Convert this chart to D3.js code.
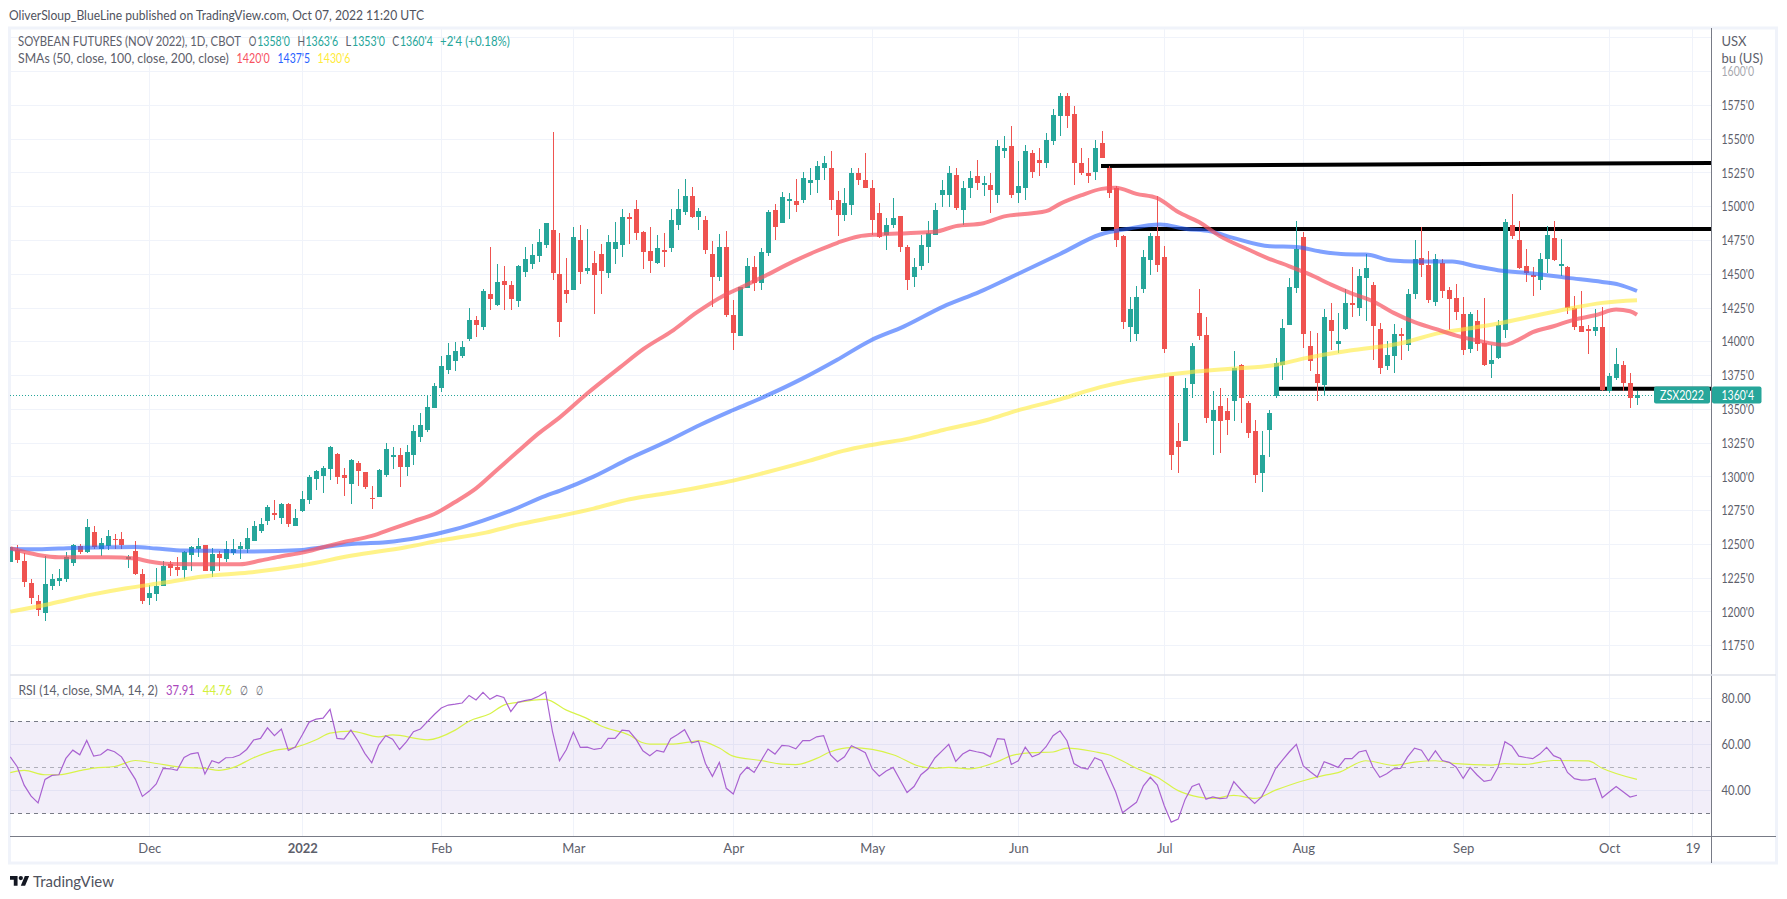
<!DOCTYPE html>
<html><head><meta charset="utf-8">
<script src="https://cdn.jsdelivr.net/npm/d3@7/dist/d3.min.js"></script>
<style>
html,body{margin:0;padding:0;background:#fff;overflow:hidden}
text{font-family:Lato,"Open Sans",sans-serif}
</style></head><body>
<svg id="c" width="1787" height="899" xmlns="http://www.w3.org/2000/svg"></svg>
<script>
const opens=[1237.3,1245.9,1237.8,1221.5,1208.1,1199.3,1219.5,1223,1224.4,1236.5,
1248.6,1244.7,1259.2,1246.6,1248.9,1254,1254,1239.2,1245.2,1228.1,
1210.4,1213.3,1219.2,1235.5,1233.3,1231.1,1242.2,1246.6,1249.6,1230.4,
1242.9,1239.2,1243.7,1246.6,1246.6,1252.6,1260,1267.4,1273.3,1269.6,
1279.9,1263.7,1274.8,1282.9,1298.4,1300.7,1305.8,1316.9,1301.4,1294.7,
1310.3,1303.6,1284.4,1285.1,1301.4,1314.7,1316.2,1307.3,1316.2,1329.5,
1334.7,1351,1365.8,1379.1,1385.8,1389.5,1402.1,1416.1,1410.8,1435.2,
1427.1,1444.8,1441.9,1430,1451.5,1457.4,1463.3,1471.5,1482.6,1450,
1438.2,1438.2,1475.2,1452.2,1458.1,1464.8,1450.7,1468.5,1471.5,1492.2,
1498.1,1481.1,1467,1458.1,1467.8,1469.2,1486.3,1495.9,1507.7,1492.2,
1490,1464.8,1447.8,1470,1419.7,1404.1,1439.6,1455.2,1443.3,1465.5,
1497.4,1487.7,1504,1504,1505.3,1517.2,1520.1,1528.3,1529,1504.6,
1494.2,1501.6,1525.3,1520.1,1513.5,1495,1479.4,1486.8,1492.8,1469.8,
1447.6,1455.8,1469.8,1479.4,1508.3,1509,1523.8,1497.2,1513.5,1522.4,
1515.7,1516.4,1508.3,1541.6,1545.3,1510.5,1513.5,1539.4,1534.9,1532.7,
1548.3,1567.5,1581.6,1569,1532,1524.6,1526,1546.8,1529,1514.2,
1478,1410.6,1405.4,1438.7,1460.2,1478,1462.4,1374.3,1326.9,1326.2,
1369.1,1421.6,1405.3,1341,1352.1,1349.1,1355.8,1383.1,1354.3,1334.3,
1303.2,1335,1359.5,1383.1,1412.7,1440.1,1477.9,1397.2,1376.5,1368.3,
1416.4,1398.7,1409.8,1429,1425.3,1447.5,1442.3,1409.8,1382.4,1389.8,
1406.1,1397.9,1435.7,1462.3,1457.1,1429.8,1458.6,1438.6,1432.7,1420.9,
1395,1415.7,1399.4,1383.9,1388.3,1409,1486.8,1475.7,1456.4,1449.7,
1446,1461.6,1477.1,1456.4,1455.7,1425.3,1412,1409.8,1408.3,1411.3,
1363.9,1373.5,1383.1,1369.8,1358];
const highs=[1248.1,1249.6,1243.4,1224.2,1212.6,1241.7,1228.1,1231.8,1244.4,1250.3,
1250.3,1268.8,1263.7,1254.8,1260.7,1257.7,1259.2,1242.2,1252.6,1231.8,
1220,1232.6,1237.8,1237.8,1240.7,1245.4,1248.9,1254.8,1249.6,1247.4,
1244.9,1252.6,1254,1251.8,1262.2,1267.4,1269.6,1279.2,1282.9,1280.7,
1280.7,1276.2,1289.6,1301.4,1305.1,1308.1,1322.9,1317.7,1306.6,1313.2,
1311.8,1303.6,1293.3,1305.8,1325.1,1322.1,1321.4,1323.6,1338.4,1347.3,
1360.6,1369.5,1389.5,1399.1,1399.8,1400.6,1425,1419.1,1438.9,1470,
1457.4,1455.9,1444.8,1456.7,1470,1472.2,1483.3,1487.7,1555.1,1480.3,
1461.8,1484.8,1486.3,1483.3,1467,1472.2,1478.9,1488.5,1498.1,1495.1,
1504.8,1481.8,1484.8,1478.9,1480.3,1498.1,1512.9,1520.3,1514.4,1498.8,
1492.9,1474.4,1479.6,1481.8,1430.8,1440.4,1461.8,1463.3,1469.2,1497.4,
1501.8,1510.7,1509.9,1520.3,1526,1529,1533.5,1537.2,1540.9,1511.3,
1513.5,1528.3,1529,1540.1,1519.4,1503.1,1491.3,1506.8,1492.8,1472,
1461.7,1479.4,1489.1,1503.1,1519.4,1530.5,1528.3,1518.7,1526.8,1534.9,
1522.4,1524.6,1549.7,1552,1560.1,1534.2,1546,1542.3,1543.1,1554.2,
1572.7,1584.5,1584.5,1574.2,1543.8,1535.7,1549.7,1556.4,1529.8,1515,
1478.7,1432.8,1441,1468.3,1480.2,1507.6,1470.6,1375,1340.2,1373.5,
1399.4,1439.4,1418.7,1363.2,1366.1,1358.7,1393.5,1383.9,1356.5,1342.4,
1333.6,1349.8,1388.3,1417.2,1447.5,1489.7,1481.6,1408.3,1406.8,1424.6,
1429,1421.6,1439.4,1455.7,1454.2,1465.3,1444.6,1414.2,1400.9,1413.5,
1410.5,1439.4,1475.7,1485.3,1467.5,1465.3,1461.6,1440.9,1443.1,1433.5,
1422.4,1423.8,1432.7,1397.9,1416.4,1491.2,1509.7,1489.7,1469,1455.7,
1466,1486,1489.7,1476.4,1456.4,1434.2,1437.9,1412.7,1424.6,1426,
1377.2,1395.7,1386.1,1377.2,1363.75];
const lows=[1237.3,1236,1218.8,1205.9,1196.6,1192.9,1216.5,1219.5,1222.5,1234.3,
1242.9,1243.9,1246.6,1241.5,1245.9,1246.6,1246.6,1232.6,1227.4,1205.9,
1205.2,1208.1,1219.2,1226.6,1226.6,1224.4,1230.4,1240.7,1230.4,1225.9,
1230.4,1237,1242.2,1239.2,1243.7,1252.6,1258.5,1264.4,1268.1,1265.1,
1262.9,1263.7,1274,1279.9,1290.3,1288.1,1297.7,1294.7,1285.9,1279.9,
1293.3,1291,1276.2,1285.1,1299.9,1305.8,1292.5,1300.7,1308.8,1325.8,
1333.2,1351,1362.8,1376.2,1378.4,1388,1400.6,1403.5,1408.6,1423.4,
1426.3,1423.4,1423.4,1425.6,1447.8,1453.7,1458.9,1469.2,1445.6,1403.4,
1428.5,1438.2,1442.6,1450,1420.4,1435.2,1447,1457.4,1462.6,1472.2,
1475.2,1453.7,1450.7,1457.4,1455.2,1466.3,1482.6,1493.7,1491.4,1482.6,
1464.8,1425.6,1444.8,1418.2,1393.7,1404.1,1439.6,1437.4,1438.2,1463.3,
1475.2,1487.7,1490.7,1495.9,1503.1,1509,1509.8,1519.4,1497.9,1478,
1489.1,1493.5,1516.4,1514.2,1479.4,1476.5,1467.6,1483.9,1466.1,1438,
1440.2,1452.8,1458,1478.7,1500,1500,1497.2,1486.8,1506.1,1512.7,
1507.6,1495,1502.4,1535.7,1506.1,1503.1,1505.3,1521.6,1522.4,1528.3,
1546,1552.7,1558.6,1516.4,1523.1,1517.9,1520.1,1536.4,1506.1,1469.8,
1409.1,1399.5,1400.2,1435.8,1449.8,1451.3,1391.4,1304.7,1303.2,1326.2,
1358,1401.6,1339.5,1316.5,1318,1331.3,1341,1339.5,1328.4,1295.1,
1289.1,1315,1358.7,1372,1412.7,1436.4,1395.7,1378,1356.5,1360.2,
1394.2,1392,1409,1418.7,1419.4,1415.7,1386.8,1376.5,1379.4,1377.2,
1386.8,1393.5,1432,1448.3,1429,1426.8,1432.7,1409,1416.4,1390.5,
1392,1392.8,1381.7,1373.5,1387.6,1403.1,1476.4,1454.2,1444.6,1434.2,
1438.6,1451.2,1460.1,1449,1420.9,1409,1407.6,1391.3,1403.9,1363.9,
1361.7,1372,1363.2,1350.6,1353];
const closes=[1248.1,1238.5,1222.2,1210.6,1201.5,1220.7,1224.4,1225.2,1240.7,1249.6,
1244.7,1262.9,1248.1,1251.1,1256.3,1253.5,1249.6,1240.7,1228.1,1208.1,
1214.1,1219.2,1234,1232.6,1231.1,1244.7,1248.1,1248.9,1230.4,1242.9,
1240,1246.6,1246.6,1248.9,1254.8,1263.7,1265.1,1277.7,1271.8,1279.9,
1265.1,1269.6,1283.6,1299.9,1304.4,1306.6,1322.1,1299.9,1299.2,1312.5,
1304.4,1292.5,1283.6,1305.1,1320.6,1316.2,1307.3,1318.4,1334,1338.4,
1351.7,1367.3,1382.1,1390.2,1393.2,1396.1,1416.1,1412.4,1437.4,1431.5,
1444.1,1441.9,1431.5,1455.9,1461.1,1464.1,1473.7,1487.7,1450.7,1414.5,
1435.2,1477.4,1451.5,1454.4,1449.3,1452.2,1473.7,1473.7,1492.2,1490.7,
1480.3,1466.3,1459.6,1469.2,1466.3,1490,1498.1,1507.7,1492.2,1496.6,
1467.8,1447.8,1470,1419.7,1406.3,1440.4,1455.9,1443.3,1466.3,1495.9,
1484.8,1507,1505.5,1501,1520.9,1520.1,1529.8,1532,1504.6,1493.5,
1502.4,1524.6,1520.1,1514.2,1489.8,1477.2,1486.1,1492,1469.8,1446.1,
1455,1472,1480.2,1497.9,1512,1525.3,1498.7,1514.2,1521.6,1517.9,
1517.2,1512,1544.6,1543.8,1509,1515,1541.6,1526,1532.7,1549.7,
1568.2,1582.3,1567.5,1532.7,1524.6,1522.4,1543.1,1536.4,1509.8,1475.7,
1415,1423.9,1432.8,1462.4,1478,1457.2,1394.3,1315.8,1322.4,1366.1,
1397.2,1404.6,1343.2,1349.8,1341,1342.4,1380.9,1358,1332.1,1301,
1316.5,1346.9,1384.6,1410.5,1440.9,1469,1406.1,1386.1,1369.8,1418.7,
1408.3,1400.9,1429,1427.5,1449,1454.9,1412,1380.9,1390.5,1406.1,
1403.9,1435.7,1461.6,1457.1,1431.2,1461.6,1437.9,1432,1422.4,1394.2,
1420.9,1398.7,1383.1,1386.8,1412.7,1489,1478.6,1454.9,1451.2,1448.3,
1461.6,1479.4,1460.8,1457.9,1425.3,1411.3,1407.6,1408.3,1411.3,1364.6,
1374.3,1383.9,1369.8,1358,1360.5];

const sma50Idx=[0,4,7,14,18,20,23,28,33,36,39,42,45,48,52,55,58,61,64,67,70,73,76,79,82.9,87.7,91.1,95.4,98.7,102.6,105.4,108.8,112.6,116,119,122,125,129,133,136,140,143,147,149,151,154,157,159,162,165,168,171,174,178,181,184,187,190,193,196,199,202,205,208,211,215,217,219,222,225,228,231,233,234];
const sma50=[1247.1,1242.2,1240.5,1240.5,1239.5,1237.3,1235.5,1235.3,1235.3,1238,1241.2,1243.9,1247.9,1251.8,1256.3,1261.7,1267.1,1272.5,1281.4,1291.5,1305.1,1318.7,1332.2,1343.8,1361.3,1381,1394.7,1408.7,1421.5,1434.1,1440.8,1449.4,1459.3,1467.2,1473.3,1478,1479.4,1480.4,1481.4,1485.6,1487.8,1492.8,1495.2,1496.7,1502.1,1508.3,1513.2,1514,1509.5,1506.3,1496,1488.6,1478.2,1468.5,1461.6,1455.9,1449.7,1442.3,1435.7,1430,1421.4,1414.5,1409.5,1404.6,1400.9,1397.7,1401.6,1407.1,1411.5,1416.4,1419.6,1423.8,1422.6,1420];
const sma100Idx=[0,4,9,14,18,21,25,30,34,42,45,50,54,59,64,68,72,77,79.1,83.9,89.1,94.4,99.2,104,108.8,114,118.9,123.7,128.5,134.2,139.5,143.3,151,156.8,160.6,165.4,169.2,172.6,175.9,181.2,185,188.3,192.1,195,198.8,202.2,207.4,210.8,214,219,224,229,231.4,234];
const sma100=[1246.6,1246.4,1247.4,1247.9,1248.1,1246.9,1245.4,1245.2,1244.7,1245.9,1247.9,1250.6,1251.6,1255.3,1261.2,1267.6,1275,1285.9,1289.8,1300.2,1313.7,1326.1,1338.4,1349.5,1360.1,1372.9,1386.5,1400.8,1411.2,1426,1437.1,1446.2,1465,1479.4,1483.5,1486.8,1483.5,1481.8,1476.9,1470.7,1470.2,1467,1464.8,1464.6,1460.1,1459.4,1459.4,1455.9,1453,1450.5,1447.3,1444.3,1442.3,1437.6];
const sma200Idx=[0,5.7,11.7,16.7,22.2,27.7,34.3,42,49.2,56.9,61.8,68.4,72.8,79.1,83.9,89.1,94.4,99.2,104,108.8,115,119.8,124.1,129.4,134.2,140.5,144.8,151,156.8,160.6,165.9,169.7,175.9,181.7,186.5,192.7,199.9,205.7,210,214,219,224,229,234];
const sma200=[1200.2,1205.9,1212.8,1217.5,1221.7,1226.2,1229.1,1234.5,1241.7,1247.9,1252.8,1258.7,1264.4,1271,1276.5,1283.4,1287.8,1292.3,1297.2,1303.4,1312,1319.2,1323.8,1328.5,1334.7,1342.1,1349,1357.4,1366.4,1370.8,1375.2,1377.5,1380.2,1382.6,1388.1,1393.5,1398.7,1406.6,1410,1413.5,1418.9,1424.3,1428.8,1430.75];

const rsi=[54.6,50.3,42.3,37.5,34.6,44.8,46.5,46.8,53.9,57.5,
55.5,61.7,54.9,55.5,57.8,56.8,54.6,49.6,44.8,37.4,
39.7,42.8,49.6,49.4,48.7,54.3,55.9,56.4,47.1,52.9,
51.9,54.2,54.3,55.4,57.8,61.9,62.6,67.2,63.8,66.7,
57.4,58.8,64.1,69.7,71,71.4,75.2,62.6,62.3,66.2,
61.6,56.1,52,59.7,63.8,62.3,57.8,61.2,65.5,66.7,
69.9,73,75.8,77.1,77.5,78,81.3,79.3,82.6,79.6,
81.3,80.4,74.3,78.3,79,79.6,80.9,82.8,65.5,52.9,
57.8,65.4,58.7,58.8,57.8,58.3,62.6,62.6,66.2,65.9,
62.3,57.2,55.1,57.4,56.7,62.5,64.3,66.4,60.7,61.4,
51.7,46.1,52.2,40.9,38.4,46.8,50.1,47.8,52.9,58,
55.8,59.6,59.3,58.1,61.6,61.6,63.3,63.8,55.4,52.5,
54.6,59.4,58,56.4,49.3,46.2,48.4,50,44.5,39.1,
41.7,46.8,49.3,54.1,57.1,60,52.6,55.8,57.5,56.8,
56.2,54.6,62.5,62.2,51.3,52.9,58.8,54.6,55.8,59,
63.8,65.9,61.6,51.7,49.9,49.3,54.2,52.9,46.2,39.4,
30.3,32.6,34.8,42,45.7,42.3,33.3,26.2,27.5,36.1,
41.7,42.9,36.2,37.2,36.4,36.7,43.8,40.4,37.2,34.3,
37.2,42.8,49.4,53.2,56.8,60,50.6,48.1,45.8,52.5,
51.3,50,53.8,53.8,56.7,57.4,50.3,45.7,47.2,49.4,
49.6,54.6,58.4,57.5,52.9,57.2,53,52.2,50.1,45.2,
50,46.7,43.9,44.5,49.9,61.2,59.3,54.9,54.3,53.8,
55.8,58.7,55.1,53.9,47.8,45.1,44.5,44.6,45.2,36.8,
39.3,41.7,39.4,37.1,37.91];
const rsiSmaIdx=[0,2,5,7,10,12,15,18,21,25,28,30,32,35,38,41,44,46,49,53,55,60,64,66,69,71,73,77,80,83,85,89,91,92,95,98,99,102,104,108,111,113,116,118,121,124,127,131,133,135,138,142,144,147,150,152,156,158,160,162,165,168,171,173,176,179,182,186,189,191,195,199,202,205,208,213,215,218,222,227,229,234];
const rsiSma=[47.7,48.7,46.8,46.8,48.6,49.7,50.4,53,51.7,50,49.6,48.7,49.9,54.2,57.4,58.7,62,64.9,65.8,63.3,64.1,62,66.2,70.1,73.3,77.1,78.3,79.6,74.9,71.2,68,64.1,60.7,60.1,60.1,61.2,61.6,58.4,54.9,53,51.4,51.2,53.9,56.8,58.6,57.8,55.5,50.3,49.6,50,49.4,52.5,55.1,56.4,56.7,58.4,56.8,55.5,52.8,49.6,45.7,39.9,37.1,36.5,37.8,36.5,40.1,44.2,46.5,47.7,52.9,50.9,52.3,52.9,51.6,51,51.6,51.3,53,52.8,49.6,44.76];

const priceTicks=[1625,1600,1575,1550,1525,1500,1475,1450,1425,1400,1375,1350,1325,1300,1275,1250,1225,1200,1175];
const rsiTicks=[80,60,40];
const timeIdx=[20,42,62,81,104,124,145,166,186,209,230,242];
const timeLabels=["Dec","2022","Feb","Mar","Apr","May","Jun","Jul","Aug","Sep","Oct","19"];
const levels=[{a:156.9,p0:1530.2,p1:1532.4},{a:156.9,p0:1483.4,p1:1483.4},{a:182.4,p0:1365.2,p1:1365.2}];
const lastClose=1360.5;

const L=10,R=1711.5,T=28,PB=675,TB=836,B=863;
const x=d3.scaleLinear().domain([0,234]).range([10.26,1637]);
const y=d3.scaleLinear().domain([1350,1500]).range([409.3,206.7]);
const yr=d3.scaleLinear().domain([30,70]).range([813.4,721.4]);
const frac=v=>Math.floor(v)+"'"+Math.round((v-Math.floor(v))*8);
const svg=d3.select("#c");
const defs=svg.append("defs");
defs.append("clipPath").attr("id","pm").append("rect").attr("x",L).attr("y",T).attr("width",R-L).attr("height",PB-T);
defs.append("clipPath").attr("id","pr").append("rect").attr("x",L).attr("y",PB).attr("width",R-L).attr("height",TB-PB);
const GRID="#f0f3fa",TXT="#5d606b",UP="#26a69a",DN="#ef5350";

// frame
svg.append("rect").attr("x",9.5).attr("y",28).attr("width",1767).attr("height",835).attr("fill","#fff").attr("stroke","#f0f3fa").attr("stroke-width",3);

// grid
const gg=svg.append("g").attr("shape-rendering","crispEdges").attr("stroke",GRID).attr("stroke-width",1);
gg.selectAll(".h").data(priceTicks).join("line").attr("x1",L).attr("x2",R).attr("y1",d=>y(d)).attr("y2",d=>y(d));
gg.selectAll(".r").data(rsiTicks).join("line").attr("x1",L).attr("x2",R).attr("y1",d=>yr(d)).attr("y2",d=>yr(d));
gg.selectAll(".v").data(timeIdx).join("line").attr("x1",d=>x(d)).attr("x2",d=>x(d)).attr("y1",T).attr("y2",TB);

// RSI band
svg.append("rect").attr("x",L).attr("width",R-L).attr("y",yr(70)).attr("height",yr(30)-yr(70)).attr("fill","#7e57c2").attr("fill-opacity",0.1);
const dash=[[70,"#787b86"],[50,"rgba(120,123,134,.55)"],[30,"#787b86"]];
svg.append("g").attr("shape-rendering","crispEdges").selectAll("line").data(dash).join("line")
 .attr("x1",L).attr("x2",R).attr("y1",d=>yr(d[0])).attr("y2",d=>yr(d[0])).attr("stroke",d=>d[1]).attr("stroke-dasharray","4 4");

const rp=svg.append("g").attr("clip-path","url(#pr)");
rp.append("path").attr("fill","none").attr("stroke","#d8f34a").attr("stroke-width",1.2)
 .attr("d",d3.line().x(d=>x(d[0])).y(d=>yr(d[1])).curve(d3.curveMonotoneX)(rsiSmaIdx.map((k,i)=>[k,rsiSma[i]])));
rp.append("path").attr("fill","none").attr("stroke","#a962d1").attr("stroke-width",1.2)
 .attr("d",d3.line().x((d,i)=>x(i)).y(d=>yr(d))(rsi));

// main pane
const mp=svg.append("g").attr("clip-path","url(#pm)");
const lcY=Math.round(y(lastClose))+.5;
mp.append("line").attr("x1",L).attr("x2",1654).attr("y1",lcY).attr("y2",lcY).attr("stroke",UP).attr("stroke-dasharray","1 2").attr("stroke-width",1).attr("shape-rendering","crispEdges");
// drawn levels
mp.selectAll(".lvl").data(levels).join("line").attr("x1",d=>x(d.a)).attr("x2",R).attr("y1",d=>y(d.p0)).attr("y2",d=>y(d.p1)).attr("stroke","#000").attr("stroke-width",4);
// candles
const candles=d3.range(opens.length);
const cg=mp.append("g").attr("shape-rendering","crispEdges");
cg.selectAll(".w").data(candles).join("line").attr("x1",i=>Math.round(x(i))+.5).attr("x2",i=>Math.round(x(i))+.5)
 .attr("y1",i=>y(highs[i])).attr("y2",i=>y(lows[i])).attr("stroke",i=>closes[i]>=opens[i]?UP:DN).attr("stroke-width",1);
cg.selectAll(".b").data(candles).join("rect").attr("x",i=>Math.round(x(i))-2).attr("width",5)
 .attr("y",i=>y(Math.max(opens[i],closes[i]))).attr("height",i=>Math.max(1.5,Math.abs(y(opens[i])-y(closes[i]))))
 .attr("fill",i=>closes[i]>=opens[i]?UP:DN);
// SMAs
const maLine=d3.line().x(d=>x(d[0])).y(d=>y(d[1])).curve(d3.curveMonotoneX);
[[sma200Idx,sma200,"#ffeb3b",.6],[sma100Idx,sma100,"#2962ff",.6],[sma50Idx,sma50,"#f7525f",.7]].forEach(([ix,v,c,o])=>{
 mp.append("path").attr("fill","none").attr("stroke",c).attr("stroke-opacity",o).attr("stroke-width",4).attr("stroke-linejoin","round")
  .attr("d",maLine(ix.map((k,i)=>[k,v[i]])));
});

// axes
svg.append("g").attr("shape-rendering","crispEdges").attr("stroke","#787b86").selectAll("line")
 .data([[R,T,R,B],[L,TB,1776,TB]]).join("line").attr("x1",d=>d[0]).attr("y1",d=>d[1]).attr("x2",d=>d[2]).attr("y2",d=>d[3]);
svg.append("line").attr("x1",L).attr("x2",1776).attr("y1",PB).attr("y2",PB).attr("stroke","#e0e3eb").attr("stroke-width",1.5);

const squeeze=(sel,w)=>sel.attr("textLength",w).attr("lengthAdjust","spacingAndGlyphs");
const styleAxis=g=>{g.select(".domain").remove();g.selectAll(".tick line").remove();
 g.selectAll("text").attr("font-size",13).attr("fill",TXT).attr("font-family",'Lato,"Open Sans",sans-serif');};
const pa=svg.append("g").attr("transform",`translate(${R+10},0)`).call(d3.axisRight(y).tickValues(priceTicks.filter(p=>p<=1600)).tickFormat(frac).tickSize(0).tickPadding(0)).call(styleAxis);
squeeze(pa.selectAll("text"),32.5);
pa.selectAll(".tick").filter(d=>d===1600).attr("opacity",.55);
const ra=svg.append("g").attr("transform",`translate(${R+10},0)`).call(d3.axisRight(yr).tickValues(rsiTicks).tickFormat(d=>d.toFixed(2)).tickSize(0).tickPadding(0)).call(styleAxis);
squeeze(ra.selectAll("text"),29);
const ax=svg.append("g").attr("transform",`translate(0,${TB})`).call(d3.axisBottom(x).tickValues(timeIdx).tickFormat((d,i)=>timeLabels[i]).tickSize(0).tickPadding(8)).call(styleAxis);
ax.selectAll("text").filter(t=>t===42).attr("font-weight",700);

// price labels
const pl=svg.append("g");
pl.append("rect").attr("x",1654).attr("y",y(lastClose)-8.5).attr("width",56).attr("height",17).attr("rx",2).attr("fill",UP);
pl.append("rect").attr("x",R+.5).attr("y",y(lastClose)-8.5).attr("width",49.5).attr("height",17).attr("rx",2).attr("fill",UP);
squeeze(pl.append("text").attr("x",1660).attr("y",y(lastClose)+4.5).attr("font-size",13).attr("fill","#fff").text("ZSX2022"),44);
squeeze(pl.append("text").attr("x",R+10).attr("y",y(lastClose)+4.5).attr("font-size",13).attr("fill","#fff").text(frac(lastClose)),32.5);

// unit label
svg.append("text").attr("x",R+10).attr("y",46).attr("font-size",13).attr("fill",TXT).text("USX");
svg.append("text").attr("x",R+10).attr("y",62.5).attr("font-size",13).attr("fill",TXT).text("bu (US)");

// header + legends
squeeze(svg.append("text").attr("x",9).attr("y",19.5).attr("font-size",13).attr("fill","#50535e").text("OliverSloup_BlueLine published on TradingView.com, Oct 07, 2022 11:20 UTC"),415);
const fitted=(s,c,yy,x0,x1)=>{const t=svg.append("text").attr("font-size",13).attr("fill",c).text(s);
 const w=t.node().getComputedTextLength();t.attr("transform",`translate(${x0},${yy}) scale(${(x1-x0)/w},1)`);};
const legend=(yy,parts)=>parts.forEach(([s,c,x0,x1])=>fitted(s,c,yy,x0,x1));
legend(46,[["SOYBEAN FUTURES (NOV 2022), 1D, CBOT",TXT,18,241],["O",TXT,248.8,256.4],["1358'0",UP,257.2,290],["H",TXT,297.4,305],["1363'6",UP,305.4,338.3],["L",TXT,345.6,351.3],["1353'0",UP,352,385],["C",TXT,392.3,399.2],["1360'4",UP,400,432.8],["+2'4 (+0.18%)",UP,440,509.8]]);
legend(63,[["SMAs (50, close, 100, close, 200, close)",TXT,18,228.9],["1420'0","#f7525f",236.5,269.8],["1437'5","#2962ff",277.5,310],["1430'6","#ffeb3b",317.6,350.5]]);
legend(695,[["RSI (14, close, SMA, 14, 2)",TXT,18.4,158],["37.91","#ab47bc",166,194.8],["44.76","#d4f03a",202.8,232],["∅",TXT,240.3,248],["∅",TXT,255.6,262.5]]);

// logo
const lg=svg.append("g").attr("transform","translate(10,873.8) scale(.54)").attr("fill","#131722");
lg.append("path").attr("d","M14 22H7V11H0V4h14v18zM28 22h-8l7.5-18h8L28 22z");
lg.append("circle").attr("cx",20).attr("cy",8).attr("r",4);
svg.append("text").attr("x",33).attr("y",887).attr("font-size",15).attr("fill","#50535e").text("TradingView");
</script></body></html>
